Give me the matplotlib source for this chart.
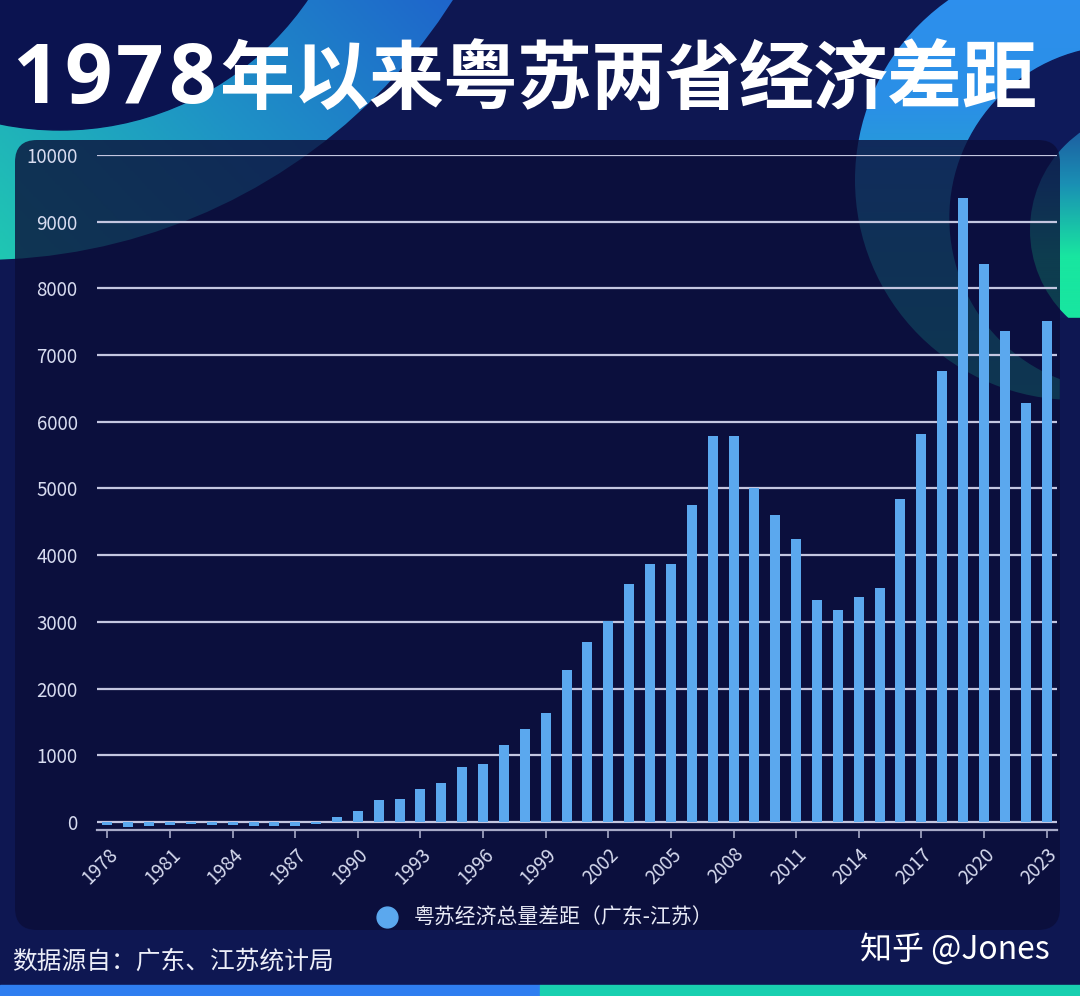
import numpy as np
import matplotlib.pyplot as plt
from matplotlib.patches import Circle, FancyBboxPatch, Rectangle
from matplotlib.colors import LinearSegmentedColormap
from matplotlib.lines import Line2D

plt.rcParams['font.family'] = ['Noto Sans CJK SC', 'DejaVu Sans']

# ==== 数据 ====
years = list(range(1978, 2024))
gap = [-50, -80, -60, -50, -30, -50, -50, -60, -60, -60, -30,
       70, 170, 330, 340, 500, 580, 820, 870, 1150, 1390, 1630,
       2280, 2700, 3010, 3570, 3870, 3870, 4750, 5780, 5780, 5010,
       4600, 4250, 3330, 3180, 3370, 3510, 4850, 5810, 6760, 9360,
       8370, 7360, 6280, 7510]
tick_years = list(range(1978, 2024, 3))
y_ticks = list(range(0, 10001, 1000))

title_num = "1978"
title_cn = "年以来粤苏两省经济差距"
series_name = "粤苏经济总量差距（广东-江苏）"
source = "数据源自：广东、江苏统计局"
mark = "知乎 @Jones"

BG = '#0e1752'
BAR = '#5ba8ee'

W, H = 1080, 996
fig = plt.figure(figsize=(W / 100, H / 100), dpi=100, facecolor=BG)

# ==== 背景装饰（像素坐标） ====
bg = fig.add_axes([0, 0, 1, 1], zorder=0)
bg.set_xlim(0, W)
bg.set_ylim(H, 0)
bg.axis('off')
bg.add_patch(Rectangle((0, 0), W, H, color=BG, zorder=0))

gx, gy = np.meshgrid(np.linspace(0, 1, 200), np.linspace(0, 1, 200))

# 左上角弧带
cmap_left = LinearSegmentedColormap.from_list('l', ['#20c8b2', '#1e92c6', '#1f62cc'])
grad = np.clip(0.65 * gx + 0.35 * (1 - gy), 0, 1)
outer = Circle((-20, -300), 560, transform=bg.transData)
im = bg.imshow(grad, cmap=cmap_left, extent=[0, 480, 270, 0], aspect='auto', zorder=1)
im.set_clip_path(outer)
bg.add_patch(Circle((60, -170), 300, color='#0b1350', zorder=2))

# 右上角圆环
cmap_right = LinearSegmentedColormap.from_list('r', ['#2f8ff0', '#2a90e6', '#1fb0c0', '#1ac8a8'])
ring = Circle((1075, 180), 220, transform=bg.transData)
im2 = bg.imshow(gy, cmap=cmap_right, extent=[850, 1080, 400, -40], aspect='auto', zorder=1)
im2.set_clip_path(ring)
bg.add_patch(Circle((1122, 218), 172, color='#0e1a5a', zorder=2))
ring2 = Circle((1150, 230), 120, transform=bg.transData)
im3 = bg.imshow(gy, cmap=LinearSegmentedColormap.from_list('g', ['#1e4d9a', '#1a8fb4', '#18e6a0', '#18e6a0']),
                extent=[1030, 1080, 330, 110], aspect='auto', zorder=3)
im3.set_clip_path(ring2)
bg.add_patch(Circle((1170, 170), 70, color='#0b1450', zorder=4))
bg.add_patch(Rectangle((1060, 318), 20, 667, color=BG, zorder=4))

# 图表面板
bg.add_patch(FancyBboxPatch((15, 140), 1045, 790,
                            boxstyle='round,pad=0,rounding_size=22',
                            facecolor='#0b0d38', alpha=0.78, edgecolor='none', zorder=5))

# 底部色条
bg.add_patch(Rectangle((0, 985), 540, 11, color='#2f7ef0', zorder=6))
bg.add_patch(Rectangle((540, 985), 540, 11, color='#19d0b0', zorder=6))

# ==== 柱状图 ====
left, right = 97 / W, 1057 / W
bottom, top = 1 - 830 / H, 1 - 155 / H
ax = fig.add_axes([left, bottom, right - left, top - bottom], zorder=2)
ax.set_facecolor('none')

x = np.arange(len(years))
ax.bar(x, gap, width=0.48, color=BAR, zorder=3)
ax.set_xlim(-0.5, len(years) - 0.5)
ax.set_ylim(-120, 10000)

ax.set_yticks(y_ticks)
ax.set_yticklabels([str(v) for v in y_ticks], fontsize=13.5, color='#d8dcf0')
ax.yaxis.grid(True, color='#c4c6e0', linewidth=1.6, zorder=1)
ax.tick_params(axis='y', length=0, pad=14)

ax.set_xticks([years.index(yr) for yr in tick_years])
ax.set_xticklabels([str(yr) for yr in tick_years], rotation=45, ha='right',
                   rotation_mode='anchor', fontsize=13.5, color='#d8dcf0')
ax.tick_params(axis='x', length=6, width=1.2, color='#a8aac8', pad=4)

for s in ['top', 'right', 'left']:
    ax.spines[s].set_visible(False)
ax.spines['bottom'].set_color('#a8aac8')
ax.spines['bottom'].set_linewidth(1.6)
ax.set_axisbelow(True)

# ==== 图例与文字 ====
handle = Line2D([], [], marker='o', linestyle='none', markersize=15,
                markerfacecolor=BAR, markeredgecolor=BAR)
fig.legend([handle], [series_name], loc='center', bbox_to_anchor=(0.5, 1 - 918 / H),
           frameon=False, fontsize=15, labelcolor='#e8eaf6', handletextpad=0.3)

# 标题：逐字排版以还原字距
base = 1 - 103 / H
for i, ch in enumerate(title_num):
    fig.text((36 + 52 * i) / W, base, ch, fontsize=60, fontweight='bold', color='white',
             family=['Open Sans', 'DejaVu Sans'], ha='center', va='baseline')
for i, ch in enumerate(title_cn):
    fig.text((257 + 74.2 * i) / W, base, ch, fontsize=54, fontweight='bold', color='white',
             ha='center', va='baseline')

fig.text(12 / W, 1 - 962 / H, source, fontsize=17.8, color='#eceef8', ha='left', va='center')
fig.text(1050 / W, 1 - 950 / H, mark, fontsize=23, color='white', ha='right', va='center')

fig.savefig('out.png', dpi=100, facecolor=BG)
